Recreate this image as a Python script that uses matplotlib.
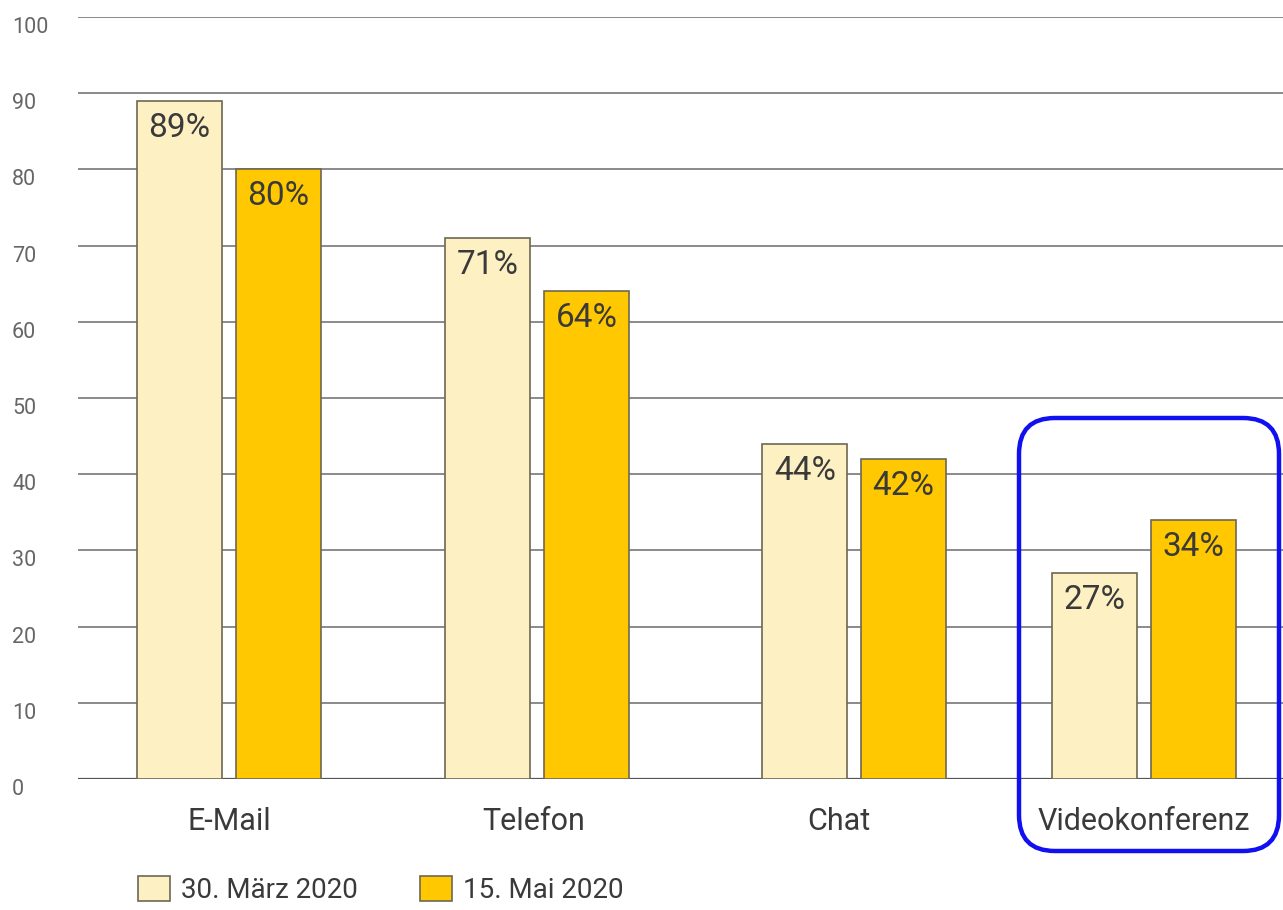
import matplotlib
matplotlib.use("Agg")
import matplotlib.pyplot as plt
from matplotlib.patches import FancyBboxPatch, Patch
import numpy as np

plt.rcParams["font.family"] = ["Roboto", "DejaVu Sans"]

categories = ["E-Mail", "Telefon", "Chat", "Videokonferenz"]
series_names = ["30. März 2020", "15. Mai 2020"]
values_march = [89, 71, 44, 27]
values_may = [80, 64, 42, 34]
yticks = [0, 10, 20, 30, 40, 50, 60, 70, 80, 90, 100]

light = "#FDF0C2"
dark = "#FFC800"
edge = "#6E6752"
text_col = "#3A3A3A"

W, H = 1283, 910
fig = plt.figure(figsize=(W / 100, H / 100), dpi=100)
ax = fig.add_axes([78 / W, 131 / H, 1 - 78 / W, (779 - 17) / H])

# group centres (slightly uneven spacing) and label positions
group_x = np.array([0.0, 1.01, 2.05, 3.0])
label_x = np.arange(len(categories))
width = 0.279
offset = 0.162

ax.set_ylim(0, 100)
ax.set_xlim(-0.495, 3.456)
ax.set_yticks(yticks)
ax.yaxis.grid(True, color="#8A8A8A", linewidth=1.4, zorder=0)
ax.set_axisbelow(True)
for s in ax.spines.values():
    s.set_visible(False)
ax.axhline(0, color="#555555", linewidth=1.6, zorder=1)

b1 = ax.bar(group_x - offset, values_march, width, color=light, edgecolor=edge,
            linewidth=1.2, zorder=2, label=series_names[0])
b2 = ax.bar(group_x + offset, values_may, width, color=dark, edgecolor=edge,
            linewidth=1.2, zorder=2, label=series_names[1])

for bars, vals in ((b1, values_march), (b2, values_may)):
    for rect, v in zip(bars, vals):
        ax.annotate(f"{v}%", (rect.get_x() + rect.get_width() / 2, v),
                    xytext=(0, -11), textcoords="offset pixels",
                    ha="center", va="top", fontsize=24, color=text_col, zorder=3)

# y tick labels: left-aligned near the figure edge, hanging just below each gridline
ax.tick_params(axis="y", length=0, pad=47.5, labelsize=15.5, labelcolor="#666666")
for lbl in ax.get_yticklabels():
    lbl.set_horizontalalignment("left")
    lbl.set_verticalalignment("top")

ax.set_xticks(label_x)
ax.set_xticklabels(categories)
ax.tick_params(axis="x", length=0, pad=20.5, labelsize=22, labelcolor=text_col)

handles = [Patch(facecolor=light, edgecolor=edge, linewidth=1.2),
           Patch(facecolor=dark, edgecolor=edge, linewidth=1.2)]
fig.legend(handles, series_names, loc="center left",
           bbox_to_anchor=(138 / W, (H - 890) / H), ncol=2, frameon=False,
           fontsize=20, handlelength=1.15, handleheight=1.0,
           handletextpad=0.4, columnspacing=2.25, borderpad=0.0,
           borderaxespad=0.0, labelcolor=text_col)

box = FancyBboxPatch((1019 / W, (H - 851) / H),
                     (1279 - 1019) / W, (851 - 418) / H,
                     boxstyle="round,pad=0,rounding_size=%f" % (36 / W),
                     mutation_aspect=W / H,
                     transform=fig.transFigure, facecolor="none",
                     edgecolor="#1010F0", linewidth=3.2, zorder=10)
fig.patches.append(box)

fig.savefig("out.png", dpi=100, facecolor="white")
